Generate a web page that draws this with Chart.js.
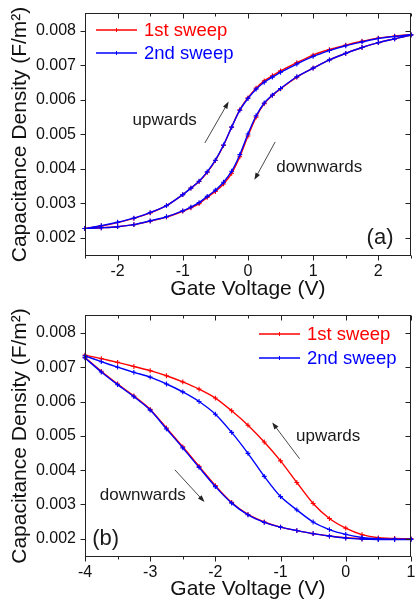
<!DOCTYPE html>
<html><head><meta charset="utf-8">
<script src="https://cdn.jsdelivr.net/npm/chart.js@4.4.0/dist/chart.umd.min.js"></script>
<style>
html,body{margin:0;padding:0;background:#fff;}
body{width:416px;height:605px;overflow:hidden;position:relative;}
#ca{position:absolute;left:0;top:0;}
#cb{position:absolute;left:0;top:300px;}
</style></head><body>
<canvas id="ca" width="416" height="300"></canvas>
<canvas id="cb" width="416" height="305"></canvas>
<script>
// ---------- data ----------
const seriesNames = ['1st sweep', '2nd sweep'];
const yTicks = [0.002, 0.003, 0.004, 0.005, 0.006, 0.007, 0.008];

// panel (a): upward sweep branch and downward sweep branch, values at aVolts
const aXTicks = [-2, -1, 0, 1, 2];
const aVolts = [-2.5,-2.25,-2,-1.75,-1.5,-1.25,-1,-0.875,-0.75,-0.625,-0.5,-0.375,-0.25,-0.125,0,0.125,0.25,0.375,0.5,0.75,1,1.25,1.5,1.75,2,2.25,2.5];
const aSweep1Up   = [0.00227,0.00234,0.00244,0.00256,0.00272,0.00293,0.00325,0.00344,0.00363,0.00390,0.00424,0.00468,0.00521,0.00571,0.00606,0.00634,0.00655,0.00670,0.00684,0.00708,0.00730,0.00746,0.00759,0.00770,0.00779,0.00785,0.00789];
const aSweep1Down = [0.00227,0.00229,0.00232,0.00238,0.00248,0.00260,0.00277,0.00287,0.00299,0.00317,0.00334,0.00356,0.00387,0.00435,0.00495,0.00550,0.00589,0.00613,0.00632,0.00666,0.00692,0.00716,0.00735,0.00752,0.00766,0.00777,0.00788];
const aSweep2Up   = [0.00227,0.00235,0.00245,0.00257,0.00273,0.00293,0.00325,0.00344,0.00364,0.00391,0.00425,0.00469,0.00521,0.00570,0.00604,0.00631,0.00651,0.00666,0.00680,0.00704,0.00726,0.00743,0.00757,0.00768,0.00778,0.00784,0.00789];
const aSweep2Down = [0.00227,0.00229,0.00232,0.00238,0.00249,0.00261,0.00278,0.00289,0.00302,0.00320,0.00338,0.00361,0.00393,0.00441,0.00501,0.00554,0.00591,0.00614,0.00633,0.00667,0.00692,0.00716,0.00735,0.00752,0.00766,0.00777,0.00788];

// panel (b): downward sweep branch and upward sweep branch, values at bVolts
const bXTicks = [-4, -3, -2, -1, 0, 1];
const bVolts = [-4,-3.75,-3.5,-3.25,-3,-2.75,-2.5,-2.25,-2,-1.75,-1.5,-1.25,-1,-0.75,-0.5,-0.25,0,0.25,0.5,0.75,1];
const bSweep1Down = [0.00728,0.00688,0.00651,0.00616,0.00577,0.00523,0.00468,0.00411,0.00355,0.00306,0.00271,0.00249,0.00234,0.00224,0.00215,0.00208,0.00203,0.00200,0.00199,0.00199,0.00199];
const bSweep1Up   = [0.00735,0.00725,0.00714,0.00702,0.00690,0.00675,0.00657,0.00636,0.00610,0.00573,0.00531,0.00482,0.00427,0.00364,0.00303,0.00259,0.00231,0.00212,0.00203,0.00201,0.00200];
const bSweep2Down = [0.00727,0.00686,0.00649,0.00614,0.00575,0.00520,0.00465,0.00408,0.00352,0.00304,0.00270,0.00248,0.00234,0.00224,0.00215,0.00208,0.00202,0.00199,0.00198,0.00198,0.00198];
const bSweep2Up   = [0.00733,0.00716,0.00700,0.00685,0.00671,0.00651,0.00628,0.00600,0.00563,0.00510,0.00449,0.00382,0.00323,0.00284,0.00249,0.00227,0.00213,0.00204,0.00200,0.00199,0.00199];

// ---------- helpers ----------
const FONT = '"Liberation Sans", Arial, sans-serif';
const colors = ['#ff0000', '#0000ff'];

function loop(volts, first, second) {
  const a = volts.map((v, i) => ({x: v, y: first[i]}));
  const b = volts.map((v, i) => ({x: v, y: second[i]})).reverse();
  return a.concat(b);
}

function dataset(i, pts) {
  return {
    label: seriesNames[i], data: pts,
    borderColor: colors[i], backgroundColor: colors[i],
    borderWidth: 1.4, tension: 0.3,
    pointStyle: 'cross', pointRadius: 2.4, pointBorderWidth: 1.1,
    pointBorderColor: colors[i], order: 1 - i, clip: 4
  };
}

const decor = {
  id: 'decor',
  afterDraw(chart, args, o) {
    const ctx = chart.ctx, a = chart.chartArea, xs = chart.scales.x, ys = chart.scales.y;
    ctx.save();
    ctx.strokeStyle = '#222'; ctx.lineWidth = 1;
    const L = Math.round(a.left) + 0.5, R = Math.round(a.right) - 0.5;
    const T = Math.round(a.top) + 0.5, B = Math.round(a.bottom) - 0.5;
    ctx.strokeRect(L, T, R - L, B - T);
    ctx.beginPath();
    const xt = o.xTicks;
    const step = xt[1] - xt[0];
    const xMinor = [];
    for (let i = 0; i < xt.length; i++) {
      [xt[i] - step / 2, xt[i] + step / 2].forEach(v => {
        if (v >= xs.min - 1e-9 && v <= xs.max + 1e-9 && !xMinor.includes(v)) xMinor.push(v);
      });
    }
    xt.forEach(v => {
      const p = Math.round(xs.getPixelForValue(v)) + 0.5;
      ctx.moveTo(p, B); ctx.lineTo(p, B + 5);
      ctx.moveTo(p, T); ctx.lineTo(p, T + 5);
    });
    xMinor.forEach(v => {
      const p = Math.round(xs.getPixelForValue(v)) + 0.5;
      ctx.moveTo(p, B); ctx.lineTo(p, B + 3);
      ctx.moveTo(p, T); ctx.lineTo(p, T + 3);
    });
    yTicks.forEach(v => {
      const p = Math.round(ys.getPixelForValue(v)) + 0.5;
      ctx.moveTo(L, p); ctx.lineTo(L - 5, p);
      ctx.moveTo(R, p); ctx.lineTo(R - 5, p);
    });
    ctx.stroke();

    // legend
    const lg = o.legend;
    chart.data.datasets.forEach((ds, i) => {
      const y = lg.y + i * lg.dy;
      ctx.strokeStyle = ds.borderColor; ctx.lineWidth = 1.3;
      ctx.beginPath(); ctx.moveTo(lg.x, y); ctx.lineTo(lg.x + 41, y); ctx.stroke();
      const cx = lg.x + 20.5;
      ctx.lineWidth = 1;
      ctx.beginPath(); ctx.moveTo(cx, y - 2); ctx.lineTo(cx, y + 2); ctx.stroke();
      ctx.fillStyle = ds.borderColor;
      ctx.font = '18.5px ' + FONT;
      ctx.textBaseline = 'middle'; ctx.textAlign = 'left';
      ctx.fillText(ds.label, lg.x + 48, y + 1);
    });

    // notes
    o.notes.forEach(n => {
      ctx.fillStyle = '#1a1a1a';
      ctx.font = n.size + 'px ' + FONT;
      ctx.textBaseline = 'middle'; ctx.textAlign = 'left';
      ctx.fillText(n.text, xs.getPixelForValue(n.x), ys.getPixelForValue(n.y));
    });

    // arrows
    o.arrows.forEach(ar => {
      const x1 = xs.getPixelForValue(ar.from[0]), y1 = ys.getPixelForValue(ar.from[1]);
      const x2 = xs.getPixelForValue(ar.to[0]), y2 = ys.getPixelForValue(ar.to[1]);
      const ang = Math.atan2(y2 - y1, x2 - x1);
      ctx.strokeStyle = '#333'; ctx.fillStyle = '#222'; ctx.lineWidth = 0.9;
      ctx.beginPath(); ctx.moveTo(x1, y1); ctx.lineTo(x2 - 4 * Math.cos(ang), y2 - 4 * Math.sin(ang)); ctx.stroke();
      ctx.beginPath();
      ctx.moveTo(x2, y2);
      ctx.lineTo(x2 - 7 * Math.cos(ang) + 2.5 * Math.sin(ang), y2 - 7 * Math.sin(ang) - 2.5 * Math.cos(ang));
      ctx.lineTo(x2 - 7 * Math.cos(ang) - 2.5 * Math.sin(ang), y2 - 7 * Math.sin(ang) + 2.5 * Math.cos(ang));
      ctx.closePath(); ctx.fill();
    });
    ctx.restore();
  }
};

function makeChart(canvasId, cfg) {
  return new Chart(document.getElementById(canvasId), {
    type: 'line',
    data: {datasets: cfg.datasets},
    plugins: [decor],
    options: {
      responsive: false, animation: false, devicePixelRatio: 1,
      layout: {padding: {top: cfg.padTop, right: 1, left: 0, bottom: 0}},
      plugins: {
        legend: {display: false}, tooltip: {enabled: false},
        decor: {xTicks: cfg.xTicks, legend: cfg.legend, notes: cfg.notes, arrows: cfg.arrows}
      },
      scales: {
        x: {
          type: 'linear', min: cfg.xMin, max: cfg.xMax,
          grid: {display: false, drawTicks: false}, border: {display: false},
          afterBuildTicks: s => { s.ticks = cfg.xTicks.map(v => ({value: v})); },
          afterFit: s => { s.height = cfg.xHeight; s.paddingLeft = 0; s.paddingRight = 0; },
          ticks: {color: '#111', font: {size: 16, family: FONT}, padding: 6, maxRotation: 0,
                  callback: v => String(v)},
          title: {display: true, text: 'Gate Voltage (V)', color: '#111',
                  font: {size: 21, family: FONT, lineHeight: 1}, padding: {top: 0, bottom: cfg.xTitlePad}}
        },
        y: {
          type: 'linear', min: 0.00147, max: 0.00852,
          grid: {display: false, drawTicks: false}, border: {display: false},
          afterBuildTicks: s => { s.ticks = yTicks.map(v => ({value: v})); },
          afterFit: s => { s.width = 85; s.paddingTop = 0; s.paddingBottom = 0; },
          ticks: {color: '#111', font: {size: 16, family: FONT}, padding: 9,
                  callback: v => v.toFixed(3)},
          title: {display: true, text: 'Capacitance Density (F/m²)', color: '#111',
                  font: {size: 21, family: FONT, lineHeight: 1}, padding: {top: 10, bottom: 0}}
        }
      }
    }
  });
}

makeChart('ca', {
  datasets: [dataset(0, loop(aVolts, aSweep1Up, aSweep1Down)), dataset(1, loop(aVolts, aSweep2Up, aSweep2Down))],
  xTicks: aXTicks, xMin: -2.5, xMax: 2.5, padTop: 13, xHeight: 44, xTitlePad: 0,
  legend: {x: 96, y: 30, dy: 23},
  notes: [
    {text: 'upwards', x: -1.77, y: 0.00542, size: 17},
    {text: 'downwards', x: 0.433, y: 0.00403, size: 17},
    {text: '(a)', x: 1.82, y: 0.00199, size: 22}
  ],
  arrows: [
    {from: [-0.661, 0.00475], to: [-0.296, 0.00595]},
    {from: [0.418, 0.00478], to: [0.099, 0.00368]}
  ]
});

makeChart('cb', {
  datasets: [dataset(0, loop(bVolts, bSweep1Down, bSweep1Up)), dataset(1, loop(bVolts, bSweep2Down, bSweep2Up))],
  xTicks: bXTicks, xMin: -4, xMax: 1, padTop: 15, xHeight: 48, xTitlePad: 5.5,
  legend: {x: 259, y: 34, dy: 24},
  notes: [
    {text: 'upwards', x: -0.763, y: 0.00500, size: 17},
    {text: 'downwards', x: -3.772, y: 0.00326, size: 17},
    {text: '(b)', x: -3.89, y: 0.00200, size: 22}
  ],
  arrows: [
    {from: [-0.707, 0.00433], to: [-1.128, 0.00539]},
    {from: [-2.622, 0.00401], to: [-2.166, 0.00307]}
  ]
});
</script>
</body></html>
